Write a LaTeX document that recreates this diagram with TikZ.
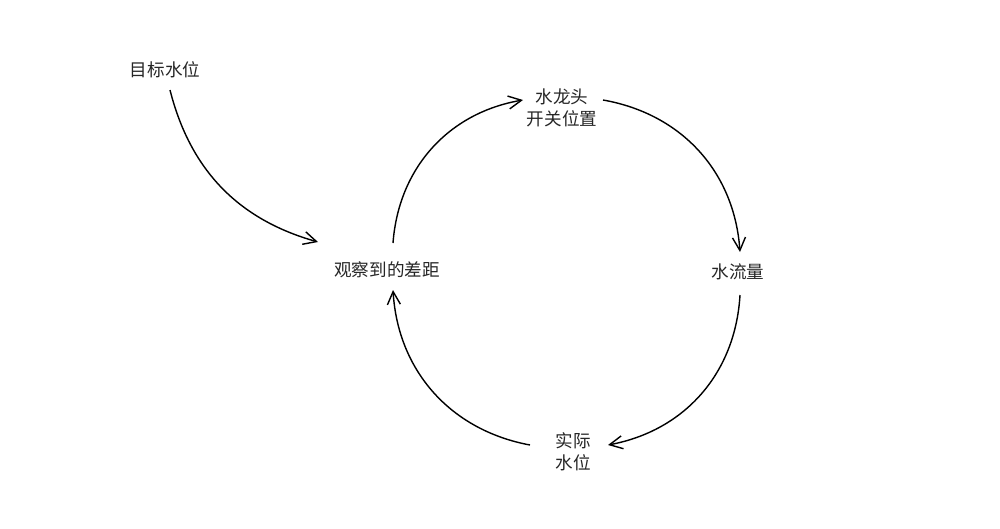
\documentclass[tikz,border=0pt]{standalone}
\usepackage{fontspec}
\newfontfamily\cjk{Noto Sans CJK SC}
\usetikzlibrary{arrows.meta}
\begin{document}
\begin{tikzpicture}[x=0.02cm,y=-0.02cm,
  lbl/.style={font=\cjk\fontsize{10pt}{12.5pt}\selectfont,align=center,text=black!85},
  arr/.style={line width=0.8pt,-{Straight Barb[length=2.6mm,width=2.6mm]}}]
\fill[white] (0,0) rectangle (1000,528);
\node[lbl] (goal) at (165,70) {目标水位};
\node[lbl] (tap) at (562,108) {水龙头\\开关位置};
\node[lbl] (flow) at (738,272) {水流量};
\node[lbl] (lvl) at (573,452) {实际\\水位};
\node[lbl] (gap) at (387,270) {观察到的差距};
\coordinate (g1) at (170,90);
\coordinate (g2) at (318,242);
\coordinate (a1) at (393,243); \coordinate (a2) at (523,100);
\coordinate (b1) at (603,100); \coordinate (b2) at (740,252);
\coordinate (c1) at (740,295); \coordinate (c2) at (608,445);
\coordinate (d1) at (530,445); \coordinate (d2) at (393,290);
\draw[arr] (g1) to[bend right=30] (g2);
\draw[arr] (a1) to[bend left=38] (a2);
\draw[arr] (b1) to[bend left=38] (b2);
\draw[arr] (c1) to[bend left=38] (c2);
\draw[arr] (d1) to[bend left=38] (d2);
\end{tikzpicture}
\end{document}
